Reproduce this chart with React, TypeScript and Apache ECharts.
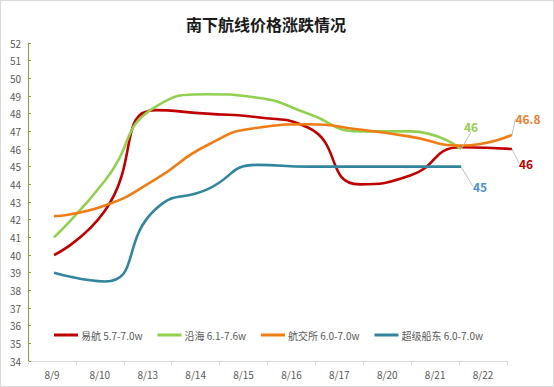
import React, { useEffect, useRef } from "react";
import * as echarts from "echarts";

const categories = ["8/9", "8/10", "8/13", "8/14", "8/15", "8/16", "8/17", "8/20", "8/21", "8/22"];
const yiHang = [40, 42.5, 48.2, 48, 47.8, 47.2, 44, 44.5, 46.1, 46];
const yanHai = [41, 44.2, 48.4, 49.1, 48.9, 48, 47, 47, 46];
const hangJiaoSuo = [42.2, 42.8, 44.3, 46.2, 47.2, 47.4, 47.1, 46.7, 46.2, 46.8];
const chaoJi = [39, 38.5, 42.6, 43.7, 45.1, 45, 45, 45, 45];
const seriesNames = ["易航 5.7-7.0w", "沿海 6.1-7.6w", "航交所 6.0-7.0w", "超级船东 6.0-7.0w"];
const yTicks = { min: 34, max: 52, interval: 1 };

const FONT = "'Noto Sans CJK SC', 'Noto Sans', sans-serif";

function withEndLabel(values: number[], color: string) {
  const last = values.length - 1;
  return values.map((v, i) =>
    i === last
      ? {
          value: v,
          label: {
            show: true,
            position: "inside",
            color,
            fontWeight: "bold",
            fontSize: 12,
            fontFamily: FONT,
            formatter: String(v),
          },
          labelLine: { show: true, lineStyle: { color: "#bfbfbf", width: 1 } },
        }
      : v
  );
}

export default function App() {
  const ref = useRef<HTMLDivElement>(null);
  useEffect(() => {
    if (!ref.current) return;
    const chart = echarts.init(ref.current, null, { renderer: "svg" });
    const offsets = [
      [14, 14],
      [10, -23],
      [16, -16],
      [19, 20],
    ];
    const labelColors = ["#c00000", "#92d050", "#ed7d31", "#4a90d9"];
    const lineColors = ["#c00000", "#92d050", "#f07c14", "#31859c"];
    const allValues = [yiHang, yanHai, hangJiaoSuo, chaoJi];
    chart.setOption({
      animation: false,
      backgroundColor: "#ffffff",
      title: {
        text: "南下航线价格涨跌情况",
        left: 260,
        top: 10,
        textAlign: "center",
        textStyle: { fontSize: 16, fontWeight: "bold", color: "#1a1a1a", fontFamily: FONT },
      },
      legend: {
        top: 324,
        left: 48,
        itemWidth: 24,
        itemHeight: 3,
        itemGap: 15,
        icon: "rect",
        textStyle: { fontSize: 10, color: "#595959", fontFamily: FONT, padding: [0, 0, 0, -2] },
        data: seriesNames,
      },
      grid: [
        { left: 27, right: 46, top: 42, bottom: 25 },
        { left: 53, right: 41, top: 42, bottom: 25 },
      ],
      xAxis: [
        {
          type: "category",
          gridIndex: 0,
          data: categories,
          boundaryGap: true,
          axisLine: { lineStyle: { color: "#d9d9d9" } },
          axisTick: { show: true, length: 4, lineStyle: { color: "#d9d9d9" } },
          axisLabel: { color: "#595959", fontSize: 10, margin: 8, fontFamily: FONT },
          splitLine: { show: false },
        },
        {
          type: "category",
          gridIndex: 1,
          data: categories,
          boundaryGap: false,
          show: false,
        },
      ],
      yAxis: [
        {
          type: "value",
          gridIndex: 0,
          min: yTicks.min,
          max: yTicks.max,
          interval: yTicks.interval,
          axisLine: { show: true, lineStyle: { color: "#8aa53a", width: 1 } },
          axisTick: { show: true, inside: true, length: 3, lineStyle: { color: "#8aa53a" } },
          axisLabel: { color: "#595959", fontSize: 10, margin: 7, fontFamily: FONT },
          splitLine: { show: false },
        },
        {
          type: "value",
          gridIndex: 1,
          min: yTicks.min,
          max: yTicks.max,
          interval: yTicks.interval,
          show: false,
          splitLine: { show: false },
        },
      ],
      series: allValues.map((vals, k) => ({
        name: seriesNames[k],
        type: "line",
        xAxisIndex: 1,
        yAxisIndex: 1,
        smooth: 0.55,
        symbol: "circle",
        symbolSize: 0.01,
        showSymbol: true,
        showAllSymbol: true,
        clip: false,
        color: lineColors[k],
        lineStyle: { width: 2.6, color: lineColors[k] },
        labelLayout: () => ({ dx: offsets[k][0], dy: offsets[k][1] }),
        data: withEndLabel(vals, labelColors[k]),
      })),
    });
    return () => chart.dispose();
  }, []);
  return (
    <div
      ref={ref}
      style={{
        position: "fixed",
        left: 0,
        top: 0,
        width: 554,
        height: 387,
        boxSizing: "border-box",
        border: "1px solid #d9d9d9",
      }}
    />
  );
}
